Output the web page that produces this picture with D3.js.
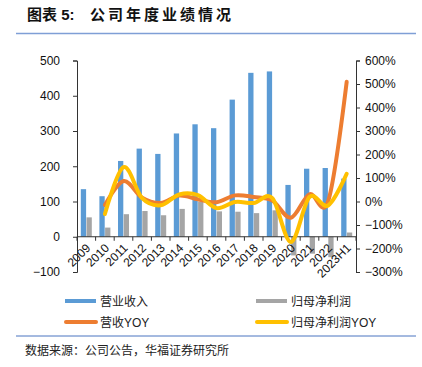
<!DOCTYPE html>
<html>
<head>
<meta charset="utf-8">
<script src="https://cdn.jsdelivr.net/npm/d3@7"></script>
<style>
  body { margin: 0; background: #fff; }
  svg { display: block; font-family: "Liberation Sans", "Noto Sans CJK SC", sans-serif; }
</style>
</head>
<body>
<div id="chart"></div>
<script>
(function() {

    // data
    var years = ["2009", "2010", "2011", "2012", "2013", "2014", "2015", "2016",
                 "2017", "2018", "2019", "2020", "2021", "2022", "2023H1"];
    var revenue = [135, 115, 215, 250, 235, 293, 319, 308, 389, 465, 469, 147, 193, 195, 165];
    var netProfit = [55, 26, 64, 73, 61, 79, 100, 72, 71, 67, 75, -53, -48, -58, 12];
    // YOY in %, first year has none
    var revenueYoy = [null, -15, 87, 16, -6, 25, 9, -3, 26, 19, 4, -69, 31, 1, 510];
    var profitYoy = [null, -53, 146, 14, -16, 30, 27, -28, -2, -6, 14, -172, 19, -17, 118];

    var leftTicks = [-100, 0, 100, 200, 300, 400, 500];
    var rightTicks = [-300, -200, -100, 0, 100, 200, 300, 400, 500, 600];

    var width = 422;
    var height = 367;
    var blue = "#5b9bd5", grey = "#a5a5a5", orange = "#ed7d31", yellow = "#ffc000";

    var svg = d3.select("#chart").append("svg")
        .attr("width", width)
        .attr("height", height);

    // title + rule
    svg.append("text")
        .attr("x", 27)
        .attr("y", 19.5)
        .attr("font-size", 15)
        .attr("font-weight", "bold")
        .attr("fill", "#111")
        .text("图表 5:");
    svg.append("text")
        .attr("x", 90)
        .attr("y", 19.5)
        .attr("font-size", 15)
        .attr("font-weight", "bold")
        .attr("letter-spacing", 3)
        .attr("fill", "#111")
        .text("公司年度业绩情况");
    svg.append("line")
        .attr("x1", 16).attr("x2", 416)
        .attr("y1", 33.5).attr("y2", 33.5)
        .attr("stroke", "#7f9fd6")
        .attr("stroke-width", 1.5);

    var x = d3.scaleBand()
        .domain(years)
        .range([77, 356])
        .padding(0);

    var yL = d3.scaleLinear().domain([-100, 500]).range([272, 60.5]);
    var yR = d3.scaleLinear().domain([-300, 600]).range([272, 60.5]);

    var bw = x.step() * 0.285;
    function cx(d) { return x(d) + x.bandwidth() / 2; }

    // bars
    svg.append("g").selectAll("rect")
        .data(years)
        .enter().append("rect")
        .attr("x", function(d) { return cx(d) - bw - 0.2; })
        .attr("y", function(d, i) { return yL(Math.max(0, revenue[i])); })
        .attr("width", bw)
        .attr("height", function(d, i) { return Math.abs(yL(revenue[i]) - yL(0)); })
        .attr("fill", blue);

    svg.append("g").selectAll("rect")
        .data(years)
        .enter().append("rect")
        .attr("x", function(d) { return cx(d) + 0.2; })
        .attr("y", function(d, i) { return yL(Math.max(0, netProfit[i])); })
        .attr("width", bw)
        .attr("height", function(d, i) { return Math.abs(yL(netProfit[i]) - yL(0)); })
        .attr("fill", grey);

    // x axis at zero
    var xa = svg.append("g").attr("transform", "translate(0," + yL(0) + ")");
    xa.append("line")
        .attr("x1", 77).attr("x2", 356)
        .attr("stroke", "#333");
    xa.selectAll(".tk")
        .data(years.concat(["end"]))
        .enter().append("line")
        .attr("class", "tk")
        .attr("x1", function(d, i) { return 77 + i * x.step(); })
        .attr("x2", function(d, i) { return 77 + i * x.step(); })
        .attr("y1", 0).attr("y2", 4)
        .attr("stroke", "#333");
    xa.selectAll("text")
        .data(years)
        .enter().append("text")
        .attr("transform", function(d) { return "translate(" + (cx(d) + 2) + ",9) rotate(-45)"; })
        .attr("text-anchor", "end")
        .attr("dy", "0.35em")
        .attr("font-size", 12)
        .attr("fill", "#111")
        .text(function(d) { return d; });

    // left axis
    var la = svg.append("g")
        .attr("transform", "translate(77,0)")
        .call(d3.axisLeft(yL).tickValues(leftTicks).tickSize(4).tickPadding(13).tickFormat(d3.format("d")));
    la.selectAll("text").attr("font-size", 12).attr("fill", "#111").attr("font-family", null);
    la.selectAll("line, path").attr("stroke", "#333");

    // right axis
    var ra = svg.append("g")
        .attr("transform", "translate(356,0)")
        .call(d3.axisRight(yR).tickValues(rightTicks).tickSize(4).tickPadding(5)
            .tickFormat(function(d) { return d3.format("d")(d) + "%"; }));
    ra.selectAll("text").attr("font-size", 12).attr("fill", "#111").attr("font-family", null);
    ra.selectAll("line, path").attr("stroke", "#333");

    // smoothed YOY lines
    var line = d3.line()
        .defined(function(d) { return d[1] !== null; })
        .x(function(d) { return cx(d[0]); })
        .y(function(d) { return yR(d[1]); })
        .curve(d3.curveCatmullRom.alpha(0));

    svg.append("path")
        .datum(years.map(function(y, i) { return [y, revenueYoy[i]]; }))
        .attr("d", line)
        .attr("fill", "none")
        .attr("stroke", orange)
        .attr("stroke-width", 4)
        .attr("stroke-linecap", "round");

    svg.append("path")
        .datum(years.map(function(y, i) { return [y, profitYoy[i]]; }))
        .attr("d", line)
        .attr("fill", "none")
        .attr("stroke", yellow)
        .attr("stroke-width", 4)
        .attr("stroke-linecap", "round");

    // legend
    var legendItems = [
        { name: "营业收入", color: blue, x: 65, y: 301, type: "bar" },
        { name: "归母净利润", color: grey, x: 256, y: 301, type: "bar" },
        { name: "营收YOY", color: orange, x: 65, y: 322, type: "line" },
        { name: "归母净利润YOY", color: yellow, x: 256, y: 322, type: "line" }
    ];
    var lg = svg.append("g").selectAll("g")
        .data(legendItems)
        .enter().append("g")
        .attr("transform", function(d) { return "translate(" + d.x + "," + d.y + ")"; });
    lg.append("line")
        .attr("x1", function(d) { return d.type === "line" ? 1 : 0; })
        .attr("x2", 31)
        .attr("stroke", function(d) { return d.color; })
        .attr("stroke-width", 4)
        .attr("stroke-linecap", function(d) { return d.type === "line" ? "round" : "butt"; });
    lg.append("text")
        .attr("x", 35)
        .attr("dy", "0.38em")
        .attr("font-size", 12)
        .attr("fill", "#222")
        .text(function(d) { return d.name; });

    // bottom rule + source
    svg.append("line")
        .attr("x1", 16).attr("x2", 416)
        .attr("y1", 336).attr("y2", 336)
        .attr("stroke", "#4a74c0")
        .attr("stroke-width", 1);
    svg.append("text")
        .attr("x", 25)
        .attr("y", 355)
        .attr("font-size", 12)
        .attr("fill", "#222")
        .text("数据来源：公司公告，华福证券研究所");

})();
</script>
</body>
</html>
